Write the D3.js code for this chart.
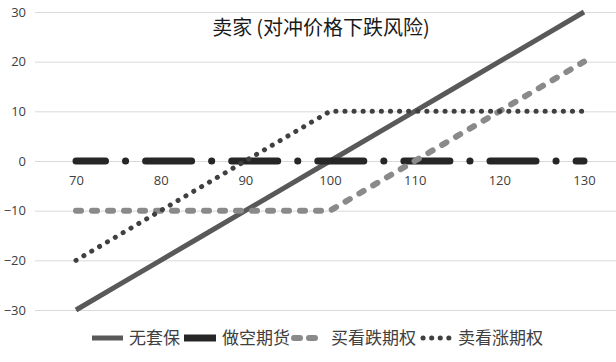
<!DOCTYPE html>
<html>
<head>
<meta charset="utf-8">
<script src="https://cdn.jsdelivr.net/npm/d3@7"></script>
<style>
  body { margin: 0; background: #fff; }
  svg { display: block; }
  text { font-family: "Noto Sans CJK SC", "Noto Sans", sans-serif; }
</style>
</head>
<body>
<svg></svg>
<script>
// price at expiry
let prices = [70, 75, 80, 85, 90, 95, 100, 105, 110, 115, 120, 125, 130];
let noHedge = [-30, -25, -20, -15, -10, -5, 0, 5, 10, 15, 20, 25, 30];
let shortFutures = [0, 0, 0, 0, 0, 0, 0, 0, 0, 0, 0, 0, 0];
let buyPut = [-10, -10, -10, -10, -10, -10, -10, -5, 0, 5, 10, 15, 20];
let sellCall = [-20, -15, -10, -5, 0, 5, 10, 10, 10, 10, 10, 10, 10];

let seriesNames = ['无套保', '做空期货', '买看跌期权', '卖看涨期权'];
let xTicks = [70, 80, 90, 100, 110, 120, 130];
let yTicks = [-30, -20, -10, 0, 10, 20, 30];
let title = '卖家\u2009(对冲价格下跌风险)';

let width = 616;
let height = 362;

let svg = d3.select('svg')
    .attr('width', width)
    .attr('height', height);

let xScale = d3.scaleLinear().domain([70, 130]).range([76, 584]);
let yScale = d3.scaleLinear().domain([-30, 30]).range([310, 12]);

// gridlines + y labels
let yAxis = d3.axisLeft(yScale)
    .tickValues(yTicks)
    .tickSize(-(width - 35))
    .tickPadding(9);

let gy = svg.append('g')
    .attr('transform', 'translate(35,0)')
    .call(yAxis);
gy.select('.domain').remove();
gy.selectAll('line').attr('stroke', '#d9d9d9').attr('stroke-width', 1);
gy.selectAll('text')
    .attr('fill', '#404040')
    .style('font-size', '13px')
    .style('font-family', '"Open Sans", sans-serif');

// x labels sit under the zero line
let xAxis = d3.axisBottom(xScale)
    .tickValues(xTicks)
    .tickSize(0)
    .tickPadding(15);

let gx = svg.append('g')
    .attr('transform', 'translate(0,' + yScale(0) + ')')
    .call(xAxis);
gx.select('.domain').remove();
gx.selectAll('text')
    .attr('fill', '#404040')
    .style('font-size', '13px')
    .style('font-family', '"Open Sans", sans-serif');

let styles = [
    { color: '#595959', width: 5, dash: null, cap: 'butt', offset: 0 },
    { color: '#262626', width: 7, dash: '46 20 0.1 20', cap: 'round', offset: 16.5 },
    { color: '#8a8a8a', width: 6, dash: '5 11', cap: 'round', offset: 0 },
    { color: '#404040', width: 5, dash: '0.1 9', cap: 'round', offset: 0 }
];

let allSeries = [noHedge, shortFutures, buyPut, sellCall];

let line = d3.line()
    .x((d, i) => xScale(prices[i]))
    .y((d) => yScale(d));

allSeries.forEach((values, k) => {
    let s = styles[k];
    svg.append('path')
        .datum(values)
        .attr('d', line)
        .attr('fill', 'none')
        .attr('stroke', s.color)
        .attr('stroke-width', s.width)
        .attr('stroke-linecap', s.cap)
        .attr('stroke-dasharray', s.dash)
        .attr('stroke-dashoffset', s.offset);
});

// title
svg.append('text')
    .attr('x', 321)
    .attr('y', 35)
    .attr('text-anchor', 'middle')
    .attr('fill', '#1a1a1a')
    .style('font-size', '20px')
    .text(title);

// legend
let legendY = 338;
let legendItems = [
    { x1: 92, x2: 123, tx: 129 },
    { x1: 184, x2: 216, tx: 222 },
    { x1: 294, x2: 320, tx: 331 },
    { x1: 423, x2: 452, tx: 458 }
];
let legendDash = [null, null, '6 9', '0.1 8.5'];

legendItems.forEach((item, k) => {
    let s = styles[k];
    svg.append('line')
        .attr('x1', item.x1)
        .attr('x2', item.x2)
        .attr('y1', legendY)
        .attr('y2', legendY)
        .attr('stroke', s.color)
        .attr('stroke-width', s.width)
        .attr('stroke-linecap', k < 2 ? 'butt' : 'round')
        .attr('stroke-dasharray', legendDash[k]);
    svg.append('text')
        .attr('x', item.tx)
        .attr('y', legendY)
        .attr('dy', '0.35em')
        .attr('fill', '#404040')
        .style('font-size', '17px')
        .text(seriesNames[k]);
});
</script>
</body>
</html>
